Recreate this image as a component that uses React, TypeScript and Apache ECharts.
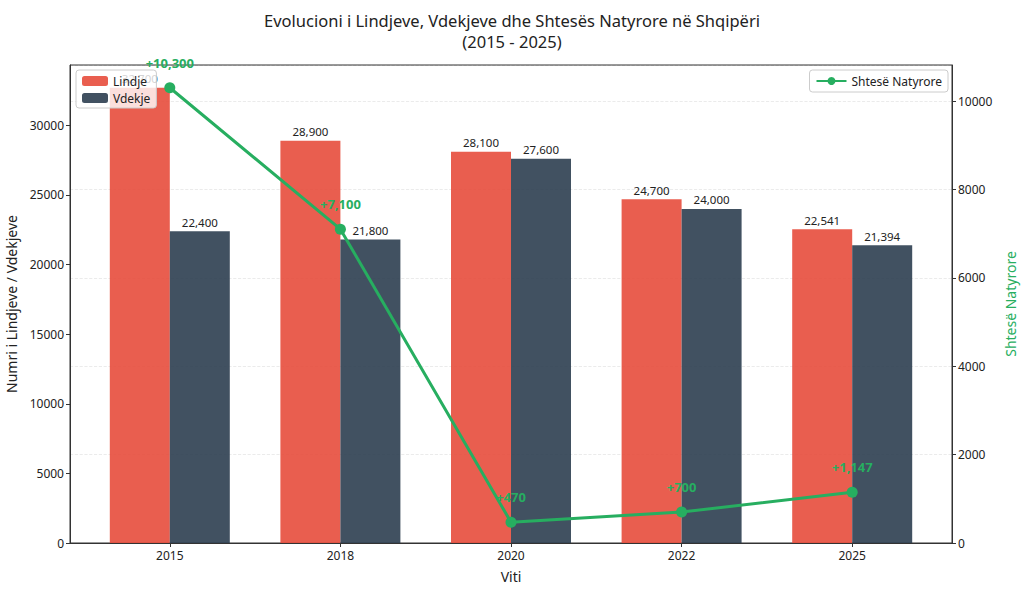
import React, { useEffect, useRef } from "react";
import * as echarts from "echarts";

const years = ["2015", "2018", "2020", "2022", "2025"];
const births = [32700, 28900, 28100, 24700, 22541];
const deaths = [22400, 21800, 27600, 24000, 21394];
const natural = [10300, 7100, 470, 700, 1147];

const FONT = "Noto Sans";
const fmt = (v: number) => v.toLocaleString("en-US");

export default function App() {
  const ref = useRef<HTMLDivElement>(null);
  useEffect(() => {
    document.body.style.margin = "0";
    const chart = echarts.init(ref.current!, null, { renderer: "svg" });
    const idx = years.map((_, i) => i);
    chart.setOption({
      animation: false,
      backgroundColor: "#ffffff",
      textStyle: { fontFamily: FONT },
      title: {
        text: "Evolucioni i Lindjeve, Vdekjeve dhe Shtesës Natyrore në Shqipëri\n(2015 - 2025)",
        left: "center",
        top: 5,
        textStyle: { fontFamily: FONT, fontSize: 16.5, fontWeight: "normal", color: "#222", lineHeight: 21 },
      },
      grid: {
        left: 70,
        right: 72,
        top: 65,
        bottom: 49,
        outerBoundsMode: "none",
        containLabel: false,
        show: true,
        borderColor: "#333",
        borderWidth: 1,
        backgroundColor: "transparent",
      },
      legend: [
        {
          data: ["Lindje", "Vdekje"],
          orient: "vertical",
          left: 76,
          top: 70,
          itemWidth: 26,
          itemHeight: 10,
          itemGap: 5,
          padding: [5, 6, 4, 6],
          backgroundColor: "rgba(255,255,255,0.8)",
          borderColor: "#cccccc",
          borderWidth: 1,
          borderRadius: 3,
          z: 20,
          textStyle: { fontFamily: FONT, fontSize: 12, color: "#222" },
        },
        {
          data: ["Shtesë Natyrore"],
          right: 76,
          top: 70,
          itemWidth: 30,
          itemHeight: 10,
          padding: [5, 6, 5, 6],
          backgroundColor: "rgba(255,255,255,0.8)",
          borderColor: "#cccccc",
          borderWidth: 1,
          borderRadius: 3,
          z: 20,
          textStyle: { fontFamily: FONT, fontSize: 12, color: "#222" },
        },
      ],
      xAxis: {
        type: "value",
        min: -0.585,
        max: 4.585,
        name: "Viti",
        nameLocation: "middle",
        nameGap: 26,
        nameTextStyle: { fontFamily: FONT, fontSize: 14, color: "#222" },
        axisLine: { show: true, onZero: false, lineStyle: { color: "#333" } },
        axisTick: { show: true, customValues: idx, length: 4, lineStyle: { color: "#333" } },
        axisLabel: {
          customValues: idx,
          formatter: (v: number) => years[Math.round(v)] ?? "",
          fontFamily: FONT,
          fontSize: 12,
          color: "#222",
          margin: 6,
        },
        splitLine: { show: false },
      },
      yAxis: [
        {
          type: "value",
          min: 0,
          max: 34335,
          interval: 5000,
          name: "Numri i Lindjeve / Vdekjeve",
          nameLocation: "middle",
          nameGap: 50,
          nameTextStyle: { fontFamily: FONT, fontSize: 14, color: "#222" },
          axisLine: { show: true, onZero: false, lineStyle: { color: "#333" } },
          axisTick: { show: true, length: 4, lineStyle: { color: "#333" } },
          axisLabel: { fontFamily: FONT, fontSize: 12, color: "#222", margin: 6, showMaxLabel: false, formatter: (v: number) => String(v) },
          splitLine: { show: false },
        },
        {
          type: "value",
          min: 0,
          max: 10815,
          interval: 2000,
          position: "right",
          name: "Shtesë Natyrore",
          nameLocation: "middle",
          nameRotate: 90,
          nameGap: 47,
          nameTextStyle: { fontFamily: FONT, fontSize: 14, color: "#27ae60" },
          axisLine: { show: true, onZero: false, lineStyle: { color: "#333" } },
          axisTick: { show: true, length: 4, lineStyle: { color: "#333" } },
          axisLabel: { fontFamily: FONT, fontSize: 12, color: "#222", margin: 6, showMaxLabel: false, formatter: (v: number) => String(v) },
          splitLine: { show: true, lineStyle: { color: "rgba(0,0,0,0.1)", type: "dashed", width: 0.8 } },
        },
      ],
      series: [
        {
          name: "Lindje",
          type: "bar",
          yAxisIndex: 0,
          data: idx.map((i) => [i, births[i]]),
          barWidth: 60,
          barGap: "0%",
          itemStyle: { color: "rgba(231,76,60,0.9)" },
          label: {
            show: true,
            position: "top",
            distance: 3,
            formatter: (p: any) => fmt(p.value[1]),
            fontFamily: FONT,
            fontSize: 11.5,
            color: "#222",
          },
          z: 2,
        },
        {
          name: "Vdekje",
          type: "bar",
          yAxisIndex: 0,
          data: idx.map((i) => [i, deaths[i]]),
          barWidth: 60,
          barGap: "0%",
          itemStyle: { color: "rgba(44,62,80,0.9)" },
          label: {
            show: true,
            position: "top",
            distance: 3,
            formatter: (p: any) => fmt(p.value[1]),
            fontFamily: FONT,
            fontSize: 11.5,
            color: "#222",
          },
          z: 2,
        },
        {
          name: "Shtesë Natyrore",
          type: "line",
          yAxisIndex: 1,
          data: idx.map((i) => [i, natural[i]]),
          symbol: "circle",
          symbolSize: 11,
          lineStyle: { color: "#27ae60", width: 3 },
          itemStyle: { color: "#27ae60" },
          label: {
            show: true,
            position: "top",
            distance: 13,
            formatter: (p: any) => "+" + fmt(p.value[1]),
            fontFamily: FONT,
            fontSize: 13,
            fontWeight: "bold",
            color: "#27ae60",
          },
          z: 5,
        },
      ],
    });
    return () => chart.dispose();
  }, []);
  return <div ref={ref} style={{ width: 1024, height: 592 }} />;
}
